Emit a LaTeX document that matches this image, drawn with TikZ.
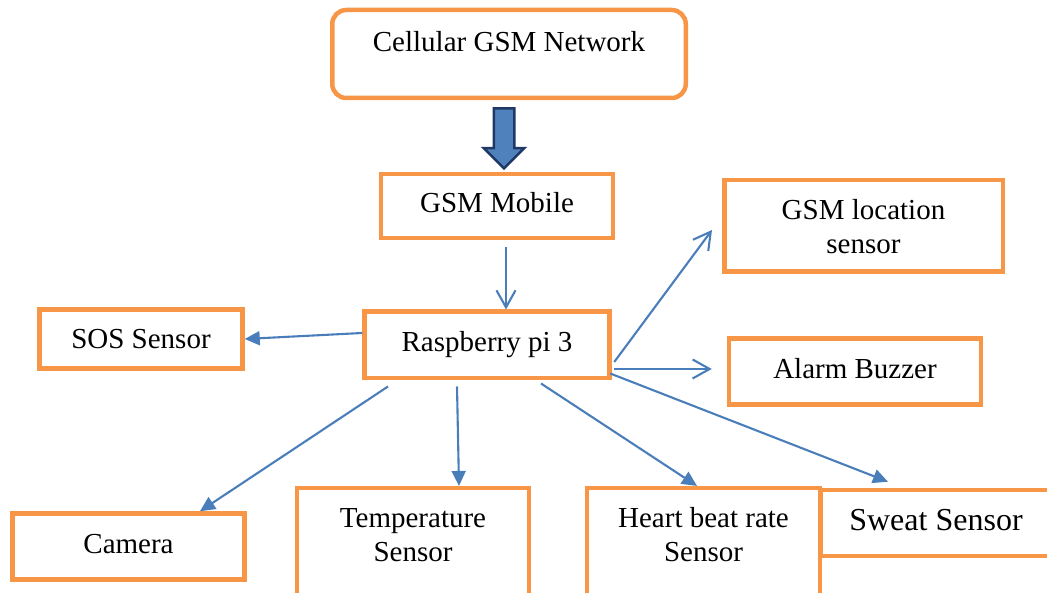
\documentclass[tikz,border=0pt]{standalone}
\usepackage{fontspec}
\setmainfont{Liberation Serif}
\usetikzlibrary{arrows.meta,shapes.arrows}
\definecolor{boxorange}{HTML}{F79646}
\definecolor{linkblue}{HTML}{4A7EBB}
\definecolor{fatblue}{HTML}{4F81BD}
\definecolor{fatnavy}{HTML}{1F3864}
\newcommand{\liftto}[1]{\rule{0pt}{#1}}
\begin{document}
\begin{tikzpicture}[x=1pt,y=1pt,
  blk/.style={draw=boxorange,line width=4.5pt,inner sep=0pt,align=center,
    font=\fontsize{29}{34}\selectfont,execute at begin node=\strut},
  link/.style={draw=linkblue,line width=2.1pt,-{Triangle[length=15pt,width=14pt]}},
  openlink/.style={draw=linkblue,line width=2.1pt,-{Straight Barb[length=17pt,width=19pt]}}]
\useasboundingbox (0,0) rectangle (1047,593);
\clip (0,0) rectangle (1047,593);
%
\node[blk,rounded corners=14pt,minimum width=353.5pt,minimum height=88pt,text depth=28pt] (net) at (509,539) {Cellular GSM Network};
\node[blk,minimum width=232pt,minimum height=64pt] (mob) at (497,387) {GSM Mobile};
\node[blk,minimum width=245pt,minimum height=66.5pt] (rpi) at (487,248) {Raspberry pi 3};
\node[blk,minimum width=203pt,minimum height=59pt] (sos) at (141,254) {\liftto{30pt}SOS Sensor};
\node[blk,minimum width=232pt,minimum height=66pt] (cam) at (128.5,46.5) {Camera};
\node[blk,minimum width=232pt,minimum height=130pt] (temp) at (413,39.8) {\liftto{26pt}Temperature\\Sensor\\\strut};
\node[blk,minimum width=233pt,minimum height=130pt] (heart) at (703.5,39.8) {\liftto{26pt}Heart beat rate\\Sensor\\\strut};
\node[blk,minimum width=230pt,minimum height=66pt,font=\fontsize{32}{37}\selectfont] (sweat) at (936,70) {Sweat Sensor};
\node[blk,minimum width=278.5pt,minimum height=91.5pt] (loc) at (863.5,367) {\liftto{32pt}GSM location\\sensor};
\node[blk,minimum width=252pt,minimum height=66pt] (alarm) at (855,221.5) {Alarm Buzzer};
% network to mobile
\node[draw=fatnavy,line width=2.5pt,fill=fatblue,single arrow,rotate=-90,anchor=tip,
  minimum height=60pt,inner sep=9pt,single arrow head extend=10pt] (fat) at ([xshift=7pt,yshift=1.5pt]mob.north) {};
%
\draw[openlink] ([xshift=9pt,yshift=-7pt]mob.south) -- ([xshift=9pt]mob.south |- rpi.north);
\draw[link] ([yshift=12pt]rpi.west) -- (sos.east);
\draw[link] ([xshift=-99pt,yshift=-6pt]rpi.south) -- ([xshift=71.5pt]cam.north);
\draw[link] ([xshift=-30pt,yshift=-6pt]rpi.south) -- ([xshift=46pt]temp.north);
\draw[link] ([xshift=54pt,yshift=-3pt]rpi.south) -- ([xshift=-6.5pt]heart.north);
\draw[link] ([xshift=-1.5pt,yshift=7pt]rpi.south east) -- ([xshift=-48pt,yshift=6pt]sweat.north);
\draw[openlink] ([xshift=2.5pt,yshift=-17pt]rpi.east) -- ([xshift=-10pt,yshift=-4pt]loc.west);
\draw[openlink] ([xshift=2.5pt,yshift=-24pt]rpi.east) -- ([xshift=-15pt,yshift=2.5pt]alarm.west);
\end{tikzpicture}
\end{document}
